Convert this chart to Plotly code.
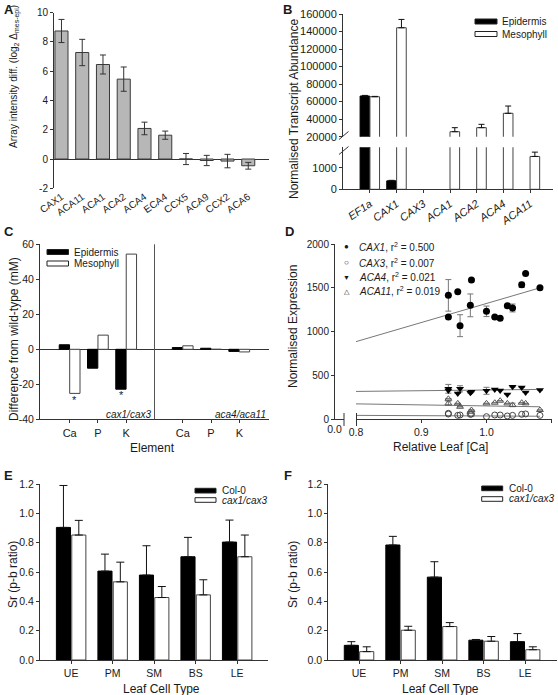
import plotly.graph_objects as go

W, H = 558, 695
FONT = "Arial, 'Liberation Sans', Helvetica, sans-serif"
INK = "#1a1a1a"
AX = "#333333"


def PX(x):
    return x / W


def PY(y):
    return 1 - y / H


# ---------------- data ----------------
# Panel A
a_genes = ["CAX1", "ACA11", "ACA1", "ACA2", "ACA4", "ECA4", "CCX5", "ACA9", "CCX2", "ACA6"]
a_diff = [8.75, 7.28, 6.46, 5.46, 2.09, 1.63, 0.0, -0.1, -0.14, -0.46]
a_err = [0.79, 0.9, 0.65, 0.83, 0.43, 0.28, 0.38, 0.35, 0.46, 0.23]
a_ticks = [-2, 0, 2, 4, 6, 8, 10]

# Panel B
b_genes = ["EF1a", "CAX1", "CAX3", "ACA1", "ACA2", "ACA4", "ACA11"]
b_epi = [66400, 390, None, None, None, None, None]
b_epi_err = [700, 25, 0, 0, 0, 0, 0]
b_meso = [65600, 144300, None, 25700, 30300, 46700, 1520]
b_meso_err = [400, 9500, 0, 4600, 3800, 8300, 200]
b_upper_ticks = [20000, 40000, 60000, 80000, 100000, 120000, 140000, 160000]
b_lower_ticks = [0, 1000]

# Panel C
c_elements = ["Ca", "P", "K"]
c_cax_epi = [2.6, -10.8, -22.8]
c_cax_meso = [-25.2, 8.1, 54.4]
c_aca_epi = [1.0, 0.6, -1.2]
c_aca_meso = [2.0, 0.0, -1.5]
c_ticks = [-40, -20, 0, 20, 40, 60]

# Panel D
d_leaf_ca = [0.9416, 0.9416, 0.956, 0.9595, 0.9753, 0.977, 1.0, 1.0127, 1.021, 1.032, 1.04, 1.054, 1.06, 1.082]
d_cax1 = [1414, 1167, 1455, 1068, 1300, 1588, 1232, 1167, 1152, 1296, 1270, 1534, 1663, 1500]
d_cax1_err = [180, 0, 0, 125, 130, 0, 60, 0, 0, 0, 45, 30, 0, 0]
d_cax3 = [68, 60, 45, 49, 57, 60, 30, 49, 49, 38, 45, 57, 61, 45]
d_aca4 = [348, 330, 295, 348, 302, 314, 325, 341, 330, 284, 370, 364, 307, 333]
d_aca4_err = [50, 0, 0, 35, 0, 0, 40, 0, 0, 0, 0, 0, 0, 0]
d_aca11 = [234, 182, 182, 143, 86, 106, 182, 189, 212, 182, 164, 189, 182, 106]
d_aca11_err = [0, 25, 0, 0, 0, 0, 0, 0, 0, 0, 20, 0, 0, 0]
d_fit_x = [0.8, 1.082]
d_cax1_fit = [886, 1500]
d_cax3_fit = [45, 35]
d_aca4_fit = [318, 341]
d_aca11_fit = [176, 143]
d_labels = ["<i>CAX1</i>, r<sup>2</sup> = 0.500", "<i>CAX3</i>, r<sup>2</sup> = 0.007",
            "<i>ACA4</i>, r<sup>2</sup> = 0.021", "<i>ACA11</i>, r<sup>2</sup> = 0.019"]

# Panels E / F
cell_types = ["UE", "PM", "SM", "BS", "LE"]
e_col0 = [0.904, 0.606, 0.579, 0.704, 0.804]
e_col0_err = [0.286, 0.116, 0.2, 0.132, 0.15]
e_cax = [0.852, 0.533, 0.426, 0.444, 0.704]
e_cax_err = [0.1, 0.134, 0.075, 0.103, 0.148]
f_col0 = [0.1, 0.784, 0.565, 0.135, 0.125]
f_col0_err = [0.025, 0.059, 0.105, 0.005, 0.055]
f_cax = [0.057, 0.203, 0.228, 0.128, 0.07]
f_cax_err = [0.033, 0.027, 0.027, 0.032, 0.02]
ef_ticks = [0.0, 0.2, 0.4, 0.6, 0.8, 1.0, 1.2]

# ---------------- figure ----------------
fig = go.Figure()


def errs(arr, sym=True, color=AX, width=3):
    d = dict(type="data", array=arr, color=color, thickness=1, width=width, visible=True)
    if not sym:
        d["symmetric"] = False
        d["arrayminus"] = [0] * len(arr)
    return d


BLACK = dict(color="#000000", line=dict(color="#000000", width=1))
WHITE = dict(color="#ffffff", line=dict(color="#444444", width=1))

# A
fig.add_trace(go.Bar(x=a_genes, y=a_diff, width=0.63, offset=-0.315,
                     marker=dict(color="#b7b7b7", line=dict(color="#3a3a3a", width=1)),
                     error_y=errs(a_err, width=3), xaxis="x", yaxis="y"))

# B (upper and lower broken axis)
for ya in ["y2", "y3"]:
    fig.add_trace(go.Bar(x=b_genes, y=b_epi, width=0.36, offset=-0.37, marker=BLACK,
                         error_y=errs(b_epi_err, sym=False, color="#111", width=3), xaxis="x2", yaxis=ya))
    fig.add_trace(go.Bar(x=b_genes, y=b_meso, width=0.36, offset=0.0, marker=WHITE,
                         error_y=errs(b_meso_err, sym=False, color="#111", width=3), xaxis="x2", yaxis=ya))

# C
c_x = list(range(len(c_elements))) + [i + len(c_elements) + 1 for i in range(len(c_elements))]
fig.add_trace(go.Bar(x=c_x, y=c_cax_epi + c_aca_epi, width=0.365, offset=-0.37, marker=BLACK,
                     xaxis="x4", yaxis="y4"))
fig.add_trace(go.Bar(x=c_x, y=c_cax_meso + c_aca_meso, width=0.365, offset=0.0, marker=WHITE,
                     xaxis="x4", yaxis="y4"))

# D
for fy in [d_cax1_fit, d_aca4_fit, d_aca11_fit, d_cax3_fit]:
    fig.add_trace(go.Scatter(x=d_fit_x, y=fy, mode="lines", line=dict(color="#777777", width=1),
                             xaxis="x5", yaxis="y5"))
fig.add_trace(go.Scatter(x=d_leaf_ca, y=d_cax3, mode="markers",
                         marker=dict(symbol="circle-open", size=6, color="#444444", line=dict(width=1)),
                         xaxis="x5", yaxis="y5"))
fig.add_trace(go.Scatter(x=d_leaf_ca, y=d_aca11, mode="markers",
                         marker=dict(symbol="triangle-up-open", size=6, color="#555555", line=dict(width=1)),
                         error_y=errs(d_aca11_err, color="#777777", width=3), xaxis="x5", yaxis="y5"))
fig.add_trace(go.Scatter(x=d_leaf_ca, y=d_aca4, mode="markers",
                         marker=dict(symbol="triangle-down", size=7, color="#000000"),
                         error_y=errs(d_aca4_err, color="#777777", width=3), xaxis="x5", yaxis="y5"))
fig.add_trace(go.Scatter(x=d_leaf_ca, y=d_cax1, mode="markers",
                         marker=dict(symbol="circle", size=7, color="#000000"),
                         error_y=errs(d_cax1_err, color="#777777", width=3), xaxis="x5", yaxis="y5"))
fig.add_trace(go.Scatter(x=[], y=[], xaxis="x6", yaxis="y5"))

# E
fig.add_trace(go.Bar(x=cell_types, y=e_col0, width=0.34, offset=-0.355, marker=BLACK,
                     error_y=errs(e_col0_err, sym=False, color="#111", width=4), xaxis="x7", yaxis="y7"))
fig.add_trace(go.Bar(x=cell_types, y=e_cax, width=0.34, offset=0.015, marker=WHITE,
                     error_y=errs(e_cax_err, sym=False, color="#111", width=4), xaxis="x7", yaxis="y7"))
# F
fig.add_trace(go.Bar(x=cell_types, y=f_col0, width=0.34, offset=-0.355, marker=BLACK,
                     error_y=errs(f_col0_err, sym=False, color="#111", width=4), xaxis="x8", yaxis="y8"))
fig.add_trace(go.Bar(x=cell_types, y=f_cax, width=0.34, offset=0.015, marker=WHITE,
                     error_y=errs(f_cax_err, sym=False, color="#111", width=4), xaxis="x8", yaxis="y8"))


def ax(size=10, **kw):
    base = dict(showline=True, linecolor=AX, linewidth=1, ticks="outside", ticklen=3,
                tickcolor=AX, tickwidth=1, showgrid=False, zeroline=False, automargin=False,
                tickfont=dict(size=size, color=INK, family=FONT))
    base.update(kw)
    return base


def fmt_ticks(vals, f="{:g}"):
    return [f.format(v) for v in vals]


layout = dict(
    width=W, height=H, margin=dict(l=0, r=0, t=0, b=0),
    plot_bgcolor="white", paper_bgcolor="white", showlegend=False,
    font=dict(family=FONT, color=INK, size=10), barmode="overlay",
    # A
    xaxis=ax(10, domain=[PX(54), PX(269)], anchor="y", type="category", range=[-0.36, 10.0],
             showline=False, ticks="", tickangle=-35),
    yaxis=ax(10, domain=[PY(188.3), PY(12.7)], anchor="x", range=[-2, 10],
             tickvals=a_ticks, ticktext=fmt_ticks(a_ticks), zeroline=True, zerolinecolor=AX,
             zerolinewidth=1),
    # B
    xaxis2=ax(11, domain=[PX(343), PX(553)], anchor="y3", type="category", range=[-1.01, 6.86],
              tickangle=-35, tickvals=b_genes, ticktext=[f"<i>{g}</i>" for g in b_genes]),
    yaxis2=ax(11, domain=[PY(136.7), PY(14)], anchor="x2", range=[20000, 160000],
              tickvals=b_upper_ticks, ticktext=fmt_ticks(b_upper_ticks, "{:d}")),
    yaxis3=ax(11, domain=[PY(189.3), PY(147.3)], anchor="x2", range=[0, 1944],
              tickvals=b_lower_ticks, ticktext=fmt_ticks(b_lower_ticks, "{:d}")),
    # C
    xaxis4=ax(11, domain=[PX(40), PX(269)], anchor="y4", range=[-1.05, 7.05],
              tickvals=c_x, ticktext=c_elements + c_elements),
    yaxis4=ax(10.5, domain=[PY(419.3), PY(244.3)], anchor="x4", range=[-40, 60],
              tickvals=c_ticks, ticktext=fmt_ticks(c_ticks), zeroline=True, zerolinecolor=AX,
              zerolinewidth=1),
    # D
    xaxis5=ax(10.5, domain=[PX(356), PX(551.7)], anchor="y5", range=[0.8, 1.1],
              tickvals=[0.8, 0.9, 1.0, 1.1], ticktext=["0.8", "0.9", "1.0", "1.1"]),
    xaxis6=ax(10.5, domain=[PX(334), PX(344)], anchor="y5", range=[-0.001, 0.02],
              tickvals=[0], ticktext=["0.0"], ticks=""),
    yaxis5=ax(10, domain=[PY(419.3), PY(244)], anchor="free", position=PX(334), range=[0, 2000],
              tickvals=[0, 500, 1000, 1500, 2000]),
    # E
    xaxis7=ax(10.5, domain=[PX(40), PX(268.3)], anchor="y7", type="category", range=[-0.75, 4.75]),
    yaxis7=ax(10.5, domain=[PY(660), PY(484)], anchor="x7", range=[0, 1.2],
              tickvals=ef_ticks, ticktext=fmt_ticks(ef_ticks, "{:.1f}")),
    # F
    xaxis8=ax(10.5, domain=[PX(328.3), PX(556.7)], anchor="y8", type="category", range=[-0.74, 4.76]),
    yaxis8=ax(10.5, domain=[PY(660), PY(484)], anchor="x8", range=[0, 1.2],
              tickvals=ef_ticks, ticktext=fmt_ticks(ef_ticks, "{:.1f}")),
)
fig.update_layout(**layout)

shapes = []
ann = []


def pline(x0, y0, x1, y1, color=AX, width=1):
    shapes.append(dict(type="line", xref="paper", yref="paper", x0=PX(x0), y0=PY(y0),
                       x1=PX(x1), y1=PY(y1), line=dict(color=color, width=width)))


def prect(x0, y0, x1, y1, fill):
    shapes.append(dict(type="rect", xref="paper", yref="paper", x0=PX(x0), y0=PY(y0),
                       x1=PX(x1), y1=PY(y1), fillcolor=fill, line=dict(color="#222222", width=1)))


def ptext(x, y, text, size=10, xanchor="left", angle=0, bold=False, yanchor="middle"):
    if bold:
        text = f"<b>{text}</b>"
    ann.append(dict(xref="paper", yref="paper", x=PX(x), y=PY(y), text=text, showarrow=False,
                    xanchor=xanchor, yanchor=yanchor, textangle=angle,
                    font=dict(size=size, color=INK, family=FONT)))


# panel letters
for letter, x, y in [("A", 2, 9), ("B", 281, 9), ("C", 2, 232), ("D", 283, 232), ("E", 2, 475), ("F", 282, 475)]:
    ptext(x, y, letter, size=13, bold=True)

# axis titles
ptext(14, 77, "Array intensity diff. (log<sub>2</sub> Δ<sub>mes-epi</sub>)", size=10, xanchor="center", angle=-90)
ptext(294, 109, "Normalised Transcript Abundance", size=12, xanchor="center", angle=-90)
ptext(14, 339, "Difference from wild-type (mM)", size=12, xanchor="center", angle=-90)
ptext(152, 448, "Element", size=12, xanchor="center")
ptext(293, 327, "Normalised Expression", size=12, xanchor="center", angle=-90)
ptext(440, 447, "Relative Leaf [Ca]", size=12, xanchor="center")
ptext(13, 575, "Sr (p-b ratio)", size=12, xanchor="center", angle=-90)
ptext(161, 689, "Leaf Cell Type", size=12, xanchor="center")
ptext(293, 575, "Sr (p-b ratio)", size=12, xanchor="center", angle=-90)
ptext(440, 689, "Leaf Cell Type", size=12, xanchor="center")

# B break marks and legend
pline(339, 139.5, 348.5, 131.5)
pline(339, 154.5, 348.5, 146.5)
prect(475, 19, 497, 24, "#000000")
prect(475, 31.5, 497, 36.5, "#ffffff")
ptext(499.5, 21.5, "Epidermis", size=10)
ptext(499.5, 34, "Mesophyll", size=10)

# C divider, legend, labels, asterisks
shapes.append(dict(type="line", xref="x4", yref="y4 domain", x0=3, x1=3, y0=0, y1=1,
                   line=dict(color="#555555", width=1)))
prect(47, 249.5, 68.5, 254.5, "#000000")
prect(47, 261, 68.5, 266, "#ffffff")
ptext(71.5, 252, "Epidermis", size=10)
ptext(71.5, 263.5, "Mesophyll", size=10)
ann.append(dict(xref="x4", yref="y4", x=2.93, y=-37, text="<i>cax1/cax3</i>", showarrow=False,
                xanchor="right", yanchor="middle", font=dict(size=10, color=INK, family=FONT)))
ann.append(dict(xref="x4", yref="y4", x=7.02, y=-37, text="<i>aca4/aca11</i>", showarrow=False,
                xanchor="right", yanchor="middle", font=dict(size=10, color=INK, family=FONT)))
for xi, yv in [(c_x[0] + 0.18, c_cax_meso[0] - 4.0), (c_x[2] - 0.185, c_cax_epi[2] - 3.5),
               (c_x[2] + 0.18, c_cax_meso[2] + 6.0)]:
    ann.append(dict(xref="x4", yref="y4", x=xi, y=yv, text="*", showarrow=False,
                    xanchor="center", yanchor="middle", font=dict(size=11, color=INK, family=FONT)))

# D break marks and legend
pline(344, 413, 344, 426)
pline(356.5, 413, 356.5, 426)
for (glyph, gsize), label, y in zip([("●", 8), ("○", 8), ("▼", 7), ("△", 7)], d_labels,
                                    [246.5, 262.5, 277, 291.5]):
    ptext(346.5, y, glyph, size=gsize, xanchor="center")
    ptext(357, y, label, size=10)

# E legend
prect(195, 488.3, 216, 493, "#000000")
prect(195, 497.7, 216, 502.3, "#ffffff")
ptext(219.5, 490.5, "Col-0", size=10)
ptext(219.5, 500, "<i>cax1/cax3</i>", size=10)
# F legend
prect(481.7, 486, 502.7, 490.7, "#000000")
prect(481.7, 496.7, 502.7, 501.3, "#ffffff")
ptext(506.5, 488.5, "Col-0", size=10)
ptext(506.5, 499, "<i>cax1/cax3</i>", size=10)

fig.update_layout(shapes=shapes, annotations=ann)

fig.write_html("out.html", config={"displayModeBar": False},
               post_script="document.body.style.margin='0';")
